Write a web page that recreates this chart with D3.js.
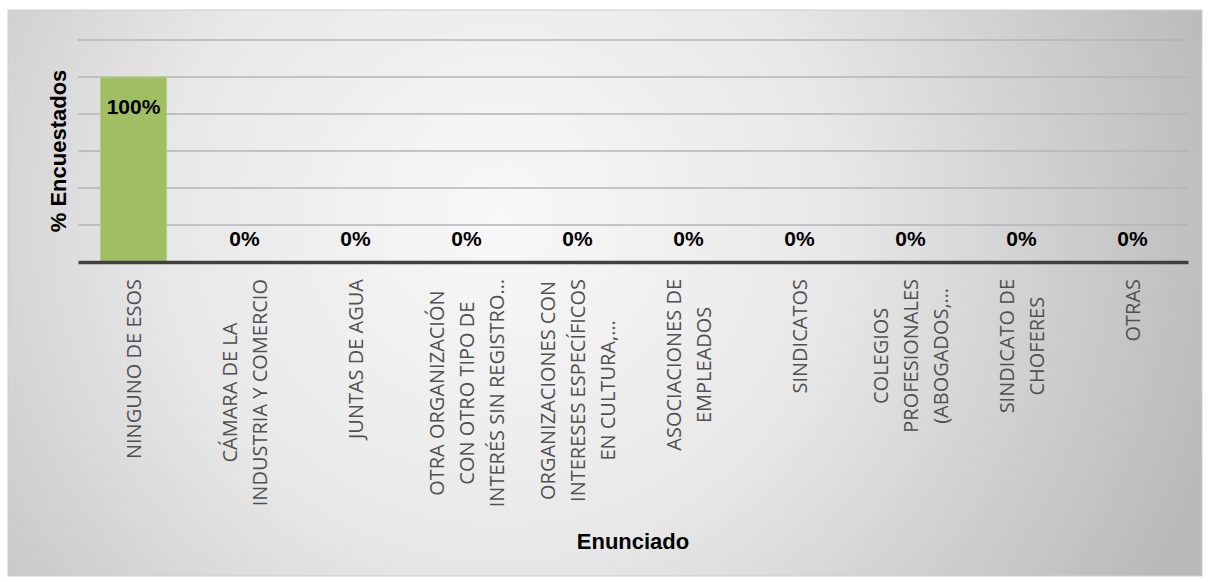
<!DOCTYPE html>
<html><head><meta charset="utf-8">
<script src="https://cdn.jsdelivr.net/npm/d3@7"></script>
<style>html,body{margin:0;padding:0;background:#fff;}svg{display:block;}</style>
</head><body>
<svg id="chart" width="1208" height="582"></svg>
<script>
const categories = [
  ["NINGUNO DE ESOS"],
  ["CÁMARA DE LA", "INDUSTRIA Y COMERCIO"],
  ["JUNTAS DE AGUA"],
  ["OTRA ORGANIZACIÓN", "CON OTRO TIPO DE", "INTERÉS SIN REGISTRO…"],
  ["ORGANIZACIONES CON", "INTERESES ESPECÍFICOS", "EN CULTURA,…"],
  ["ASOCIACIONES DE", "EMPLEADOS"],
  ["SINDICATOS"],
  ["COLEGIOS", "PROFESIONALES", "(ABOGADOS,…"],
  ["SINDICATO DE", "CHOFERES"],
  ["OTRAS"]
];
const values = [1.00, 0, 0, 0, 0, 0, 0, 0, 0, 0];
const yTicks = [0, 0.2, 0.4, 0.6, 0.8, 1.0, 1.2];
const yTitle = "% Encuestados";
const xTitle = "Enunciado";

(function(){
const svg = d3.select("#chart");
const defs = svg.append("defs");
const grad = defs.append("radialGradient").attr("id","bg")
  .attr("gradientUnits","userSpaceOnUse")
  .attr("cx",500).attr("cy",220).attr("r",740);
grad.append("stop").attr("offset","0").attr("stop-color","#f8f8f8");
grad.append("stop").attr("offset","0.45").attr("stop-color","#e8e8e8");
grad.append("stop").attr("offset","1").attr("stop-color","#bababa");

svg.append("rect").attr("x",8).attr("y",10).attr("width",1194).attr("height",566)
  .attr("fill","url(#bg)").attr("stroke","#cfcfcf").attr("stroke-width",1);

const pL = 78, pR = 1188, pT = 40, pB = 262;
const x = d3.scaleBand().domain(d3.range(categories.length)).range([pL,pR]).paddingInner(0.405).paddingOuter(0.2025);
const y = d3.scaleLinear().domain([0,1.2]).range([pB, pT]);

// gridlines
svg.append("g").selectAll("line").data(yTicks.slice(1)).join("line")
  .attr("x1",pL).attr("x2",pR)
  .attr("y1",d=>y(d)).attr("y2",d=>y(d))
  .attr("stroke","#b4b4b4").attr("stroke-width",1.5);

// bars
svg.append("g").selectAll("rect").data(values).join("rect")
  .attr("x",(d,i)=>x(i)).attr("width",x.bandwidth())
  .attr("y",d=>y(d)).attr("height",d=>pB - y(d))
  .attr("fill","#9fbf62").attr("stroke","#b5d08a").attr("stroke-width",1);

// axis line
const xAxis = d3.axisBottom(x).tickSize(0).tickFormat("");
const ax = svg.append("g").attr("transform",`translate(0,${pB})`).call(xAxis);
ax.select(".domain").attr("stroke","#404040").attr("stroke-width",3.5);

// data labels
const fmt = d3.format(".0%");
svg.append("g").selectAll("text").data(values).join("text")
  .attr("x",(d,i)=>x(i)+x.bandwidth()/2)
  .attr("y",d=> d>0.1 ? y(d)+29 : y(d)-24)
  .attr("dominant-baseline","central")
  .attr("text-anchor","middle")
  .attr("font-family","'Liberation Sans', Arial, sans-serif")
  .attr("font-weight","bold").attr("font-size",21)
  .attr("fill","#000")
  .text(d=>fmt(d));

// category labels
const lineH = 30, labelTop = 279;
const cg = svg.append("g");
categories.forEach((lines,i)=>{
  const cx = x(i)+x.bandwidth()/2;
  const t = cg.append("text")
    .attr("font-family","'Open Sans', sans-serif")
    .attr("font-size",20).attr("fill","#505050")
    .attr("text-anchor","middle");
  lines.forEach((ln,k)=>{
    t.append("tspan").attr("x",0)
      .attr("y",(k-(lines.length-1)/2)*lineH)
      .attr("dominant-baseline","central")
      .text(ln);
  });
  let maxW = 0;
  t.selectAll("tspan").each(function(){ maxW = Math.max(maxW, this.getComputedTextLength()); });
  t.attr("transform",`translate(${cx},${labelTop+maxW/2}) rotate(-90)`);
});

// axis titles
svg.append("text")
  .attr("transform",`translate(58,151) rotate(-90)`)
  .attr("text-anchor","middle").attr("dominant-baseline","central")
  .attr("font-family","'Liberation Sans', Arial, sans-serif")
  .attr("font-weight","bold").attr("font-size",22).attr("fill","#000")
  .text(yTitle);
svg.append("text")
  .attr("x",(pL+pR)/2).attr("y",541)
  .attr("text-anchor","middle").attr("dominant-baseline","central")
  .attr("font-family","'Liberation Sans', Arial, sans-serif")
  .attr("font-weight","bold").attr("font-size",22).attr("fill","#000")
  .text(xTitle);
})();
</script>
</body></html>
